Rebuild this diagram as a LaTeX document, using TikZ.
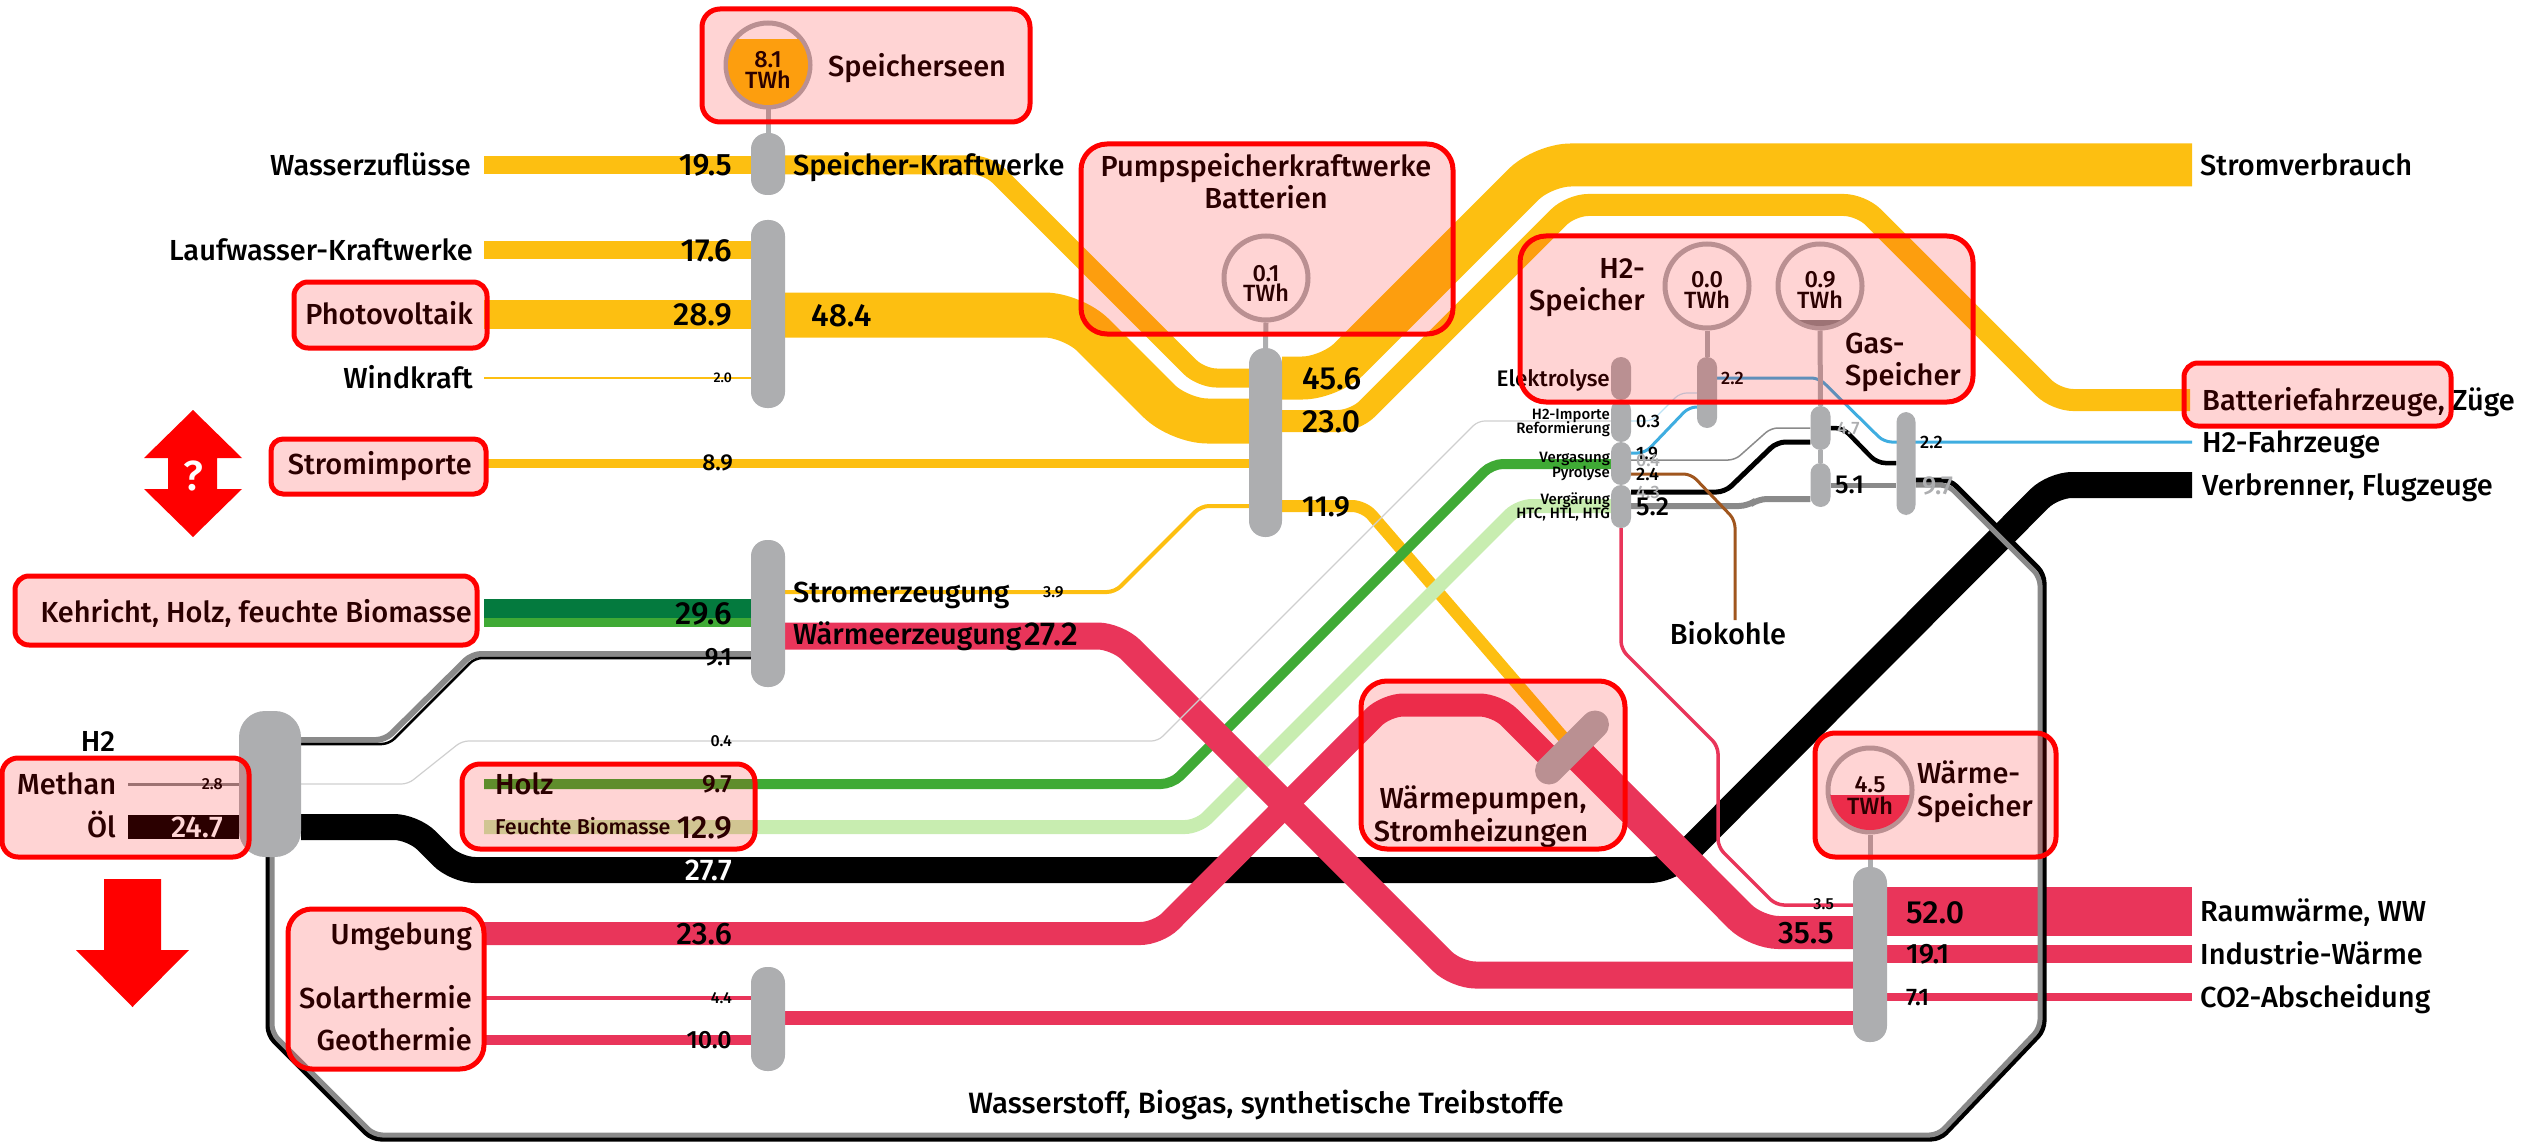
\documentclass[tikz,border=0pt]{standalone}
\usepackage{fontspec}
\setmainfont{Fira Sans Medium}
\pgfdeclarelayer{bands}
\pgfsetlayers{bands,main}
\definecolor{cYel}{HTML}{FDBF11}
\definecolor{cHeat}{HTML}{E9355A}
\definecolor{cDG}{HTML}{047A3E}
\definecolor{cGr}{HTML}{3FAA35}
\definecolor{cLG}{HTML}{C8EDB0}
\definecolor{cBar}{HTML}{ADAEB0}
\definecolor{cBlue}{HTML}{3FADE0}
\definecolor{cBrown}{HTML}{A0561E}
\definecolor{cGas}{HTML}{8A8A8A}
\definecolor{cFaint}{HTML}{CFCFCF}
\tikzset{
  band/.style 2 args={draw=#1,line width=#2pt,rounded corners=#2*0.5pt+6pt,line cap=butt},
  hubbar/.style={fill=cBar,inner sep=0pt,rounded corners=#1},
  hubbar/.default=16pt,
  store/.style={circle,draw=cBar,line width=5pt,minimum size=84pt,inner sep=0pt},
  stem/.style={draw=cBar,line width=5pt},
  box/.style={draw=red,line width=5pt,fill=red,fill opacity=.17,draw opacity=1,rounded corners=#1},
  box/.default=18pt,
  lab/.style={inner sep=0pt,text height=#1*0.69pt,text depth=0pt,font=\fontsize{#1}{#1}\selectfont},
  lw/.style={lab=#1,anchor=west},
  le/.style={lab=#1,anchor=east},
  lc/.style={lab=#1,anchor=center},
}
\begin{document}
\begin{tikzpicture}[x=1pt,y=-1pt]
\useasboundingbox (0,0) rectangle (2522,1142);
% bars
\node[hubbar,minimum width=34pt,minimum height=62pt] (bSK) at (768,164) {};
\node[hubbar,minimum width=34pt,minimum height=188pt] (bPV) at (768,314) {};
\node[hubbar,minimum width=34pt,minimum height=147pt] (bKV) at (768,613.5) {};
\node[hubbar,minimum width=34pt,minimum height=104pt] (bST) at (768,1019) {};
\node[hubbar=26pt,minimum width=62pt,minimum height=146pt] (bHub) at (270,784) {};
\node[hubbar,minimum width=33pt,minimum height=189pt] (bPump) at (1265.5,442.5) {};
\node[hubbar,minimum width=34pt,minimum height=175pt] (bHeat) at (1870,954.5) {};
\node[hubbar=10pt,minimum width=20pt,minimum height=43pt] (bEl) at (1621,378.5) {};
\node[hubbar=10pt,minimum width=20pt,minimum height=42pt] (bImp) at (1621,421) {};
\node[hubbar=10pt,minimum width=20pt,minimum height=43pt] (bVg) at (1621,463.5) {};
\node[hubbar=10pt,minimum width=20pt,minimum height=43pt] (bVr) at (1621,506.5) {};
\node[hubbar=10pt,minimum width=20pt,minimum height=71pt] (bH2s) at (1707,392.5) {};
\node[hubbar=10pt,minimum width=20pt,minimum height=44pt] (bGa) at (1820.5,428) {};
\node[hubbar=10pt,minimum width=20pt,minimum height=44pt] (bGb) at (1820.5,485) {};
\node[hubbar=10pt,minimum width=19pt,minimum height=103pt] (bR) at (1906,463.5) {};
% storage circles
\node[store] (cSee) at (768,65) {};
\node[store] (cPump) at (1266,278) {};
\node[store] (cH2) at (1707,286) {};
\node[store] (cGas) at (1820,286) {};
\node[store] (cW) at (1870,790) {};
\begin{scope}\clip (768,65) circle (40pt); \fill[cYel] (720,39) rectangle (820,110); \end{scope}
\begin{scope}\clip (1820,286) circle (40pt); \fill[cBar!80!black] (1770,320) rectangle (1870,340); \end{scope}
\begin{scope}\clip (1870,790) circle (40pt); \fill[cHeat] (1820,795) rectangle (1920,840); \end{scope}
\draw[stem] (cSee.south) -- (bSK.north);
\draw[stem] (cPump.south) -- (bPump.north);
\draw[stem] (cH2.south) -- (bH2s.north);
\draw[stem] (cGas.south) -- (bGa.north);
\draw[stem] (bGa.south) -- (bGb.north);
\draw[stem] (cW.south) -- (bHeat.north);
\draw[cBar,line width=28pt,line cap=round] (1549,770.5) -- coordinate (hp) (1595,724.5);
\begin{pgfonlayer}{bands}
% fossil
\draw[band={black}{26}] (bHub.east |- 0,827) -- (413,827) -- (456,870) -- (1669,870) -- (2053,485) -- (2192,485);
\fill[black] (128,815) rectangle (bHub.west |- 0,839);
\draw[cGas,line width=3pt] (128,784) -- (bHub.west |- 0,784);
% yellow
\draw[band={cYel}{18}] (484,165) -- (bSK.west |- 0,165);
\draw[band={cYel}{18}] (484,250) -- (bPV.west |- 0,250);
\draw[band={cYel}{29}] (484,314) -- (bPV.west |- 0,314);
\draw[band={cYel}{2}] (484,378) -- (bPV.west |- 0,378);
\draw[band={cYel}{9}] (484,463.5) -- (bPump.west |- 0,463.5);
\draw[band={cYel}{19}] (bSK.east |- 0,165) -- (988,165) -- (1201,378) -- (bPump.west |- 0,378);
\draw[band={cYel}{45}] (bPV.east |- 0,315) -- (1073,315) -- (1179,421) -- (bPump.west |- 0,421);
\draw[band={cYel}{43}] (bPump.east |- 0,378) -- (1330,378) -- (1543,165) -- (2192,165);
\draw[band={cYel}{22}] (bPump.east |- 0,421) -- (1355,421) -- (1571,205) -- (1861,205) -- (2056,400) -- (2190,400);
\draw[band={cYel}{4}] (bKV.east |- 0,592) -- (1115,592) -- (1201,506) -- (bPump.west |- 0,506);
\draw[band={cYel}{12}] (bPump.east |- 0,506) -- (1364,506) -- (hp);
% biomass
\fill[cDG] (484,599) rectangle (bKV.west |- 0,618);
\fill[cGr] (484,618) rectangle (bKV.west |- 0,627);
\draw[band={cLG}{14}] (484,827) -- (1198,827) -- (1519,506) -- (bVr.west |- 0,506);
\draw[band={cGr}{10}] (484,784) -- (1172,784) -- (1492,464) -- (bVg.west |- 0,464);
% heat
\draw[band={cHeat}{27}] (bKV.east |- 0,636) -- (1117,636) -- (1456,975) -- (bHeat.west |- 0,975);
\draw[band={cHeat}{23}] (484,933.5) -- (1158,933.5) -- (1386,705) -- (1497,705) -- (1556,764);
\draw[band={cHeat}{33}] (1572,748) -- (1756,932.5) -- (bHeat.west |- 0,932.5);
\draw[band={cHeat}{4.4}] (484,998) -- (bST.west |- 0,998);
\draw[band={cHeat}{9.5}] (484,1040) -- (bST.west |- 0,1040);
\draw[band={cHeat}{14}] (bST.east |- 0,1018) -- (bHeat.west |- 0,1018);
\fill[cHeat] (bHeat.east |- 0,887) rectangle (2192,936);
\fill[cHeat] (bHeat.east |- 0,945) rectangle (2192,963);
\fill[cHeat] (bHeat.east |- 0,993) rectangle (2192,1001);
\draw[band={cHeat}{3.5}] (bVr.south) -- (1621,649) -- (1718,746) -- (1718,847) -- (1776,905) -- (bHeat.west |- 0,905);
% gases
\draw[band={cGas}{6}] (bHub.east |- 0,740) -- (385,740) -- (472,654) -- (bKV.west |- 0,654);
\draw[band={black}{2.5}] (bHub.east |- 0,744) -- (389,744) -- (475,658) -- (bKV.west |- 0,658);
\draw[band={cFaint}{1.2}] (bHub.east |- 0,784) -- (408,784) -- (462,741) -- (1158,741) -- (1478,421) -- (bImp.west |- 0,421);
\draw[band={black}{5}] (bR.east |- 0,480) -- (1950,480) -- (2044,574) -- (2044,1030) -- (1940,1139) -- (372,1139) -- (268,1035) -- (268,857);
\draw[band={cGas}{5}] (bR.east |- 0,485) -- (1948,485) -- (2040,577) -- (2040,1028) -- (1938,1135) -- (374,1135) -- (272,1033) -- (272,857);
\draw[band={cGas}{1.5}] (bVg.east |- 0,460) -- (1735,460) -- (1771,428) -- (bGa.west |- 0,428);
\draw[band={black}{5}] (bVr.east |- 0,492) -- (1725,492) -- (1777,442) -- (bGa.west |- 0,442);
\draw[band={cGas}{6}] (bVr.east |- 0,506) -- (1748,506) -- (1758,499) -- (bGb.west |- 0,499);
\draw[band={cGas}{5}] (bGb.east |- 0,485) -- (bR.west |- 0,485);
\draw[band={black}{4.5}] (bGa.east |- 0,428) -- (1843,428) -- (1877,463) -- (bR.west |- 0,463);
% hydrogen
\draw[band={cBlue}{3}] (bH2s.east |- 0,378) -- (1819,378) -- (1884,442) -- (2192,442);
\draw[band={cBlue}{3}] (bVg.east |- 0,453) -- (1645,453) -- (1689,407) -- (bH2s.west |- 0,407);
\draw[band={cBlue!35}{1.2}] (bImp.east |- 0,421) -- (1652,421) -- (1680,393) -- (bH2s.west |- 0,393);
\draw[band={cBrown}{3}] (bVg.east |- 0,474) -- (1691,474) -- (1735,520) -- (1735,620);
\end{pgfonlayer}
% left labels
\node[le=29] (tWZ) at (471,165) {Wasserzuflüsse};
\node[le=29] (tLW) at (473,250) {Laufwasser-Kraftwerke};
\node[le=29] (tPV) at (473,314) {Photovoltaik};
\node[le=29] (tWK) at (473,378) {Windkraft};
\node[le=29] (tSI) at (472,464) {Stromimporte};
\node[le=29] (tKH) at (472,612) {Kehricht, Holz, feuchte Biomasse};
\node[lc=29] (tH2) at (98,741) {H2};
\node[lw=29] (tMe) at (17,784) {Methan};
\node[le=29] (tOl) at (116,827) {Öl};
\node[le=29] (tUm) at (472,934) {Umgebung};
\node[le=29] (tSo) at (472,998) {Solarthermie};
\node[le=29] (tGe) at (472,1040) {Geothermie};
\node[lw=29] (tHo) at (495,784) {Holz};
\node[lw=21.5] (tFB) at (495,827) {Feuchte Biomasse};
% middle labels
\node[lw=29] (tSK) at (793,165) {Speicher-Kraftwerke};
\node[lw=29] (tSE) at (793,592) {Stromerzeugung};
\node[lw=29] (tWE) at (793,634) {Wärmeerzeugung};
\node[lw=29] (tSS) at (828,66) {Speicherseen};
\node[lc=29] (tPu) at (1266,166) {Pumpspeicherkraftwerke};
\node[lc=29] (tBa) at (1266,198) {Batterien};
\node[le=29] (tH2a) at (1645,268) {H2-};
\node[le=29] (tH2b) at (1645,300) {Speicher};
\node[lw=29] (tGa) at (1845,343) {Gas-};
\node[lw=29] (tGb) at (1845,375) {Speicher};
\node[le=22.5] (tEl) at (1610,379) {Elektrolyse};
\node[le=15] (tIm) at (1610,414) {H2-Importe};
\node[le=15] (tRe) at (1610,428) {Reformierung};
\node[le=15] (tVg) at (1610,457) {Vergasung};
\node[le=15] (tPy) at (1610,472) {Pyrolyse};
\node[le=15] (tVr) at (1610,499) {Vergärung};
\node[le=15] (tHT) at (1610,513) {HTC, HTL, HTG};
\node[lc=29] (tBk) at (1728,634) {Biokohle};
\node[lc=29] (tWp1) at (1483,798) {Wärmepumpen,};
\node[lc=29] (tWp2) at (1481,831) {Stromheizungen};
\node[lw=29] (tWs1) at (1917,773) {Wärme-};
\node[lw=29] (tWs2) at (1917,806) {Speicher};
\node[lc=29.4] (tWT) at (1266,1103) {Wasserstoff, Biogas, synthetische Treibstoffe};
% right labels
\node[lw=29] (tSV) at (2200,165) {Stromverbrauch};
\node[lw=29] (tBF) at (2202,400) {Batteriefahrzeuge, Züge};
\node[lw=29] (tHF) at (2202,442) {H2-Fahrzeuge};
\node[lw=29] (tVB) at (2202,485) {Verbrenner, Flugzeuge};
\node[lw=29] (tRW) at (2200,911) {Raumwärme, WW};
\node[lw=29] (tIW) at (2200,954) {Industrie-Wärme};
\node[lw=29] (tCO) at (2200,997) {CO2-Abscheidung};
% storage values
\node[lc=23.5] (v81) at (768,59) {8.1};
\node[lc=23.5] (u81) at (768,80) {TWh};
\node[lc=23.5] (v01) at (1266,273) {0.1};
\node[lc=23.5] (u01) at (1266,293) {TWh};
\node[lc=23.5] (v00) at (1707,279) {0.0};
\node[lc=23.5] (u00) at (1707,300) {TWh};
\node[lc=23.5] (v09) at (1820,279) {0.9};
\node[lc=23.5] (u09) at (1820,300) {TWh};
\node[lc=23.5] (v45) at (1870,784) {4.5};
\node[lc=23.5] (u45) at (1870,806) {TWh};
% values
\node[le=31] (n195) at (732,165) {19.5};
\node[le=32] (n176) at (732,250) {17.6};
\node[le=32] (n289) at (732,314) {28.9};
\node[le=14] (n20) at (732,378) {2.0};
\node[le=23] (n89) at (733,463) {8.9};
\node[le=32] (n296) at (732,613) {29.6};
\node[le=25] (n91) at (732,657) {9.1};
\node[le=16] (n04a) at (732,741) {0.4};
\node[le=25] (n97) at (732,784) {9.7};
\node[le=32] (n129) at (732,827) {12.9};
\node[le=30,text=white] (n277) at (732,870) {27.7};
\node[le=31] (n236) at (732,934) {23.6};
\node[le=16] (n44) at (732,998) {4.4};
\node[le=25] (n100) at (732,1040) {10.0};
\node[le=16] (n28) at (223,784) {2.8};
\node[le=30,text=white] (n247) at (223,827) {24.7};
\node[lw=32] (n484) at (811,315) {48.4};
\node[lw=16] (n39) at (1043,592) {3.9};
\node[le=33] (n272) at (1078,634) {27.2};
\node[lw=32] (n456) at (1302,378) {45.6};
\node[lw=32] (n230) at (1302,421) {23.0};
\node[lw=29] (n119) at (1302,506) {11.9};
\node[lw=18] (n03) at (1636,421) {0.3};
\node[lw=18] (n19) at (1636,453) {1.9};
\node[lw=18,text=cBar] (n04) at (1636,460) {0.4};
\node[lw=18] (n24) at (1636,474) {2.4};
\node[lw=18,text=cBar] (n43) at (1636,492) {4.3};
\node[lw=26] (n52) at (1636,507) {5.2};
\node[lw=18] (n22a) at (1721,378) {2.2};
\node[lw=18,text=cBar] (n47) at (1837,428) {4.7};
\node[lw=26] (n51) at (1835,485) {5.1};
\node[lw=18] (n22b) at (1920,442) {2.2};
\node[lw=26,text=cBar] (n97b) at (1922,486) {9.7};
\node[le=16] (n35) at (1834,904) {3.5};
\node[le=31] (n355) at (1834,933) {35.5};
\node[lw=32] (n520) at (1906,912) {52.0};
\node[lw=28] (n191) at (1906,954) {19.1};
\node[lw=24] (n71) at (1906,997) {7.1};
% arrows
\fill[red] (193,410) -- (242,458) -- (217,458) -- (217,489) -- (242,489) -- (193,537) -- (144,489) -- (168,489) -- (168,458) -- (144,458) -- cycle;
\node[lc=42,text=white] (tQ) at (193,476) {?};
\fill[red] (104,879) -- (161,879) -- (161,950) -- (189,950) -- (132.5,1007) -- (76,950) -- (104,950) -- cycle;
% boxes
\path[box] (702,9) rectangle (1030,122);
\path[box=26pt] (1081,144) rectangle (1453,334);
\path[box=26pt] (1520,236) rectangle (1973,402);
\path[box=14pt] (2184,363) rectangle (2451,426);
\path[box=14pt] (294,282) rectangle (487,348);
\path[box=12pt] (271,439) rectangle (486,494);
\path[box=14pt] (15,576) rectangle (477,645);
\path[box=16pt] (2,758) rectangle (249,857);
\path[box=18pt] (462,764) rectangle (755,849);
\path[box=24pt] (288,909) rectangle (484,1069);
\path[box=26pt] (1361,681) rectangle (1625,849);
\path[box=20pt] (1815,733) rectangle (2056,857);
\end{tikzpicture}
\end{document}
